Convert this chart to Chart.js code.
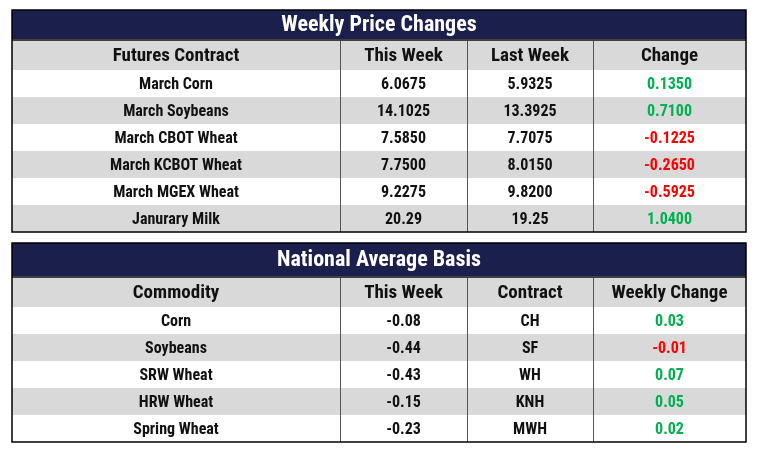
<!DOCTYPE html>
<html><head><meta charset="utf-8">
<script src="https://cdn.jsdelivr.net/npm/chart.js@4"></script>
<style>html,body{margin:0;padding:0;background:#fff}#wrap{width:758px;height:451px}</style>
</head><body><div id="wrap"><canvas id="c"></canvas></div>
<script>
const title1 = "Weekly Price Changes";
const headers1 = ["Futures Contract","This Week","Last Week","Change"];
const contracts = ["March Corn","March Soybeans","March CBOT Wheat","March KCBOT Wheat","March MGEX Wheat","Janurary Milk"];
const thisWeek1 = ["6.0675","14.1025","7.5850","7.7500","9.2275","20.29"];
const lastWeek1 = ["5.9325","13.3925","7.7075","8.0150","9.8200","19.25"];
const change1 = ["0.1350","0.7100","-0.1225","-0.2650","-0.5925","1.0400"];
const title2 = "National Average Basis";
const headers2 = ["Commodity","This Week","Contract","Weekly Change"];
const commodities = ["Corn","Soybeans","SRW Wheat","HRW Wheat","Spring Wheat"];
const basis = ["-0.08","-0.44","-0.43","-0.15","-0.23"];
const contract2 = ["CH","SF","WH","KNH","MWH"];
const change2 = ["0.03","-0.01","0.07","0.05","0.02"];

const FONT = '"Liberation Sans Narrow","Roboto Condensed","Liberation Sans",sans-serif';
const colX = [12,340,467,593,746];

function drawTable(ctx, X, Y, top, titleH, headH, rowH, title, headers, rows, changes){
  const px = v=>X.getPixelForValue(v), py = v=>Y.getPixelForValue(v);
  const left=px(colX[0]), right=px(colX[4]);
  const nRows = rows.length;
  const bottom = top+titleH+2+headH+rowH*nRows;
  // title
  ctx.fillStyle="#1b1f4b"; ctx.fillRect(left,py(top),right-left,py(top+titleH)-py(top));
  ctx.fillStyle="#fff"; ctx.font="bold 22px "+FONT; ctx.textAlign="center"; ctx.textBaseline="middle";
  ctx.fillText(title,(left+right)/2,py(top+titleH/2+1));
  const hTop=top+titleH+2;
  ctx.fillStyle="#d9d9d9"; ctx.fillRect(left,py(hTop),right-left,py(hTop+headH)-py(hTop));
  for(let i=0;i<nRows;i++){ if(i%2===1){ const rt=hTop+headH+rowH*i; ctx.fillRect(left,py(rt),right-left,py(rt+rowH)-py(rt)); } }
  // header text
  ctx.fillStyle="#111"; ctx.font="bold 19px "+FONT;
  headers.forEach((h,j)=>ctx.fillText(h,(px(colX[j])+px(colX[j+1]))/2,py(hTop+headH/2+1)));
  ctx.font="bold 16px "+FONT;
  rows.forEach((r,i)=>{
    const cy=py(hTop+headH+rowH*i+rowH/2+1);
    r.forEach((t,j)=>{
      if(j===3) ctx.fillStyle = changes[i].startsWith("-")?"#ff0000":"#00b050"; else ctx.fillStyle="#111";
      ctx.fillText(t,(px(colX[j])+px(colX[j+1]))/2,cy);
    });
  });
  // lines
  ctx.strokeStyle="#555"; ctx.lineWidth=1;
  for(let j=1;j<4;j++){ ctx.beginPath(); ctx.moveTo(px(colX[j])+0.5,py(hTop)); ctx.lineTo(px(colX[j])+0.5,py(bottom)); ctx.stroke(); }
  ctx.strokeStyle="#000"; ctx.lineWidth=1.5;
  ctx.beginPath(); ctx.moveTo(left,py(hTop-1)); ctx.lineTo(right,py(hTop-1)); ctx.stroke();
  ctx.strokeRect(left,py(top),right-left,py(bottom)-py(top));
}

const tablePlugin = {id:"tables", afterDraw(chart){
  const ctx=chart.ctx, X=chart.scales.x, Y=chart.scales.y;
  ctx.save();
  const rows1 = contracts.map((c,i)=>[c,thisWeek1[i],lastWeek1[i],change1[i]]);
  const rows2 = commodities.map((c,i)=>[c,basis[i],contract2[i],change2[i]]);
  drawTable(ctx,X,Y,10,29,29,27,title1,headers1,rows1,change1);
  drawTable(ctx,X,Y,243,33,29,27,title2,headers2,rows2,change2);
  ctx.restore();
}};

new Chart(document.getElementById("c"),{
  type:"scatter", data:{datasets:[{data:[]}]},
  options:{responsive:true,maintainAspectRatio:false,animation:false,
    layout:{padding:0},
    plugins:{legend:{display:false},tooltip:{enabled:false}},
    scales:{x:{type:"linear",min:0,max:758,display:false},y:{type:"linear",min:0,max:451,reverse:true,display:false}}},
  plugins:[tablePlugin]
});
</script></body></html>
